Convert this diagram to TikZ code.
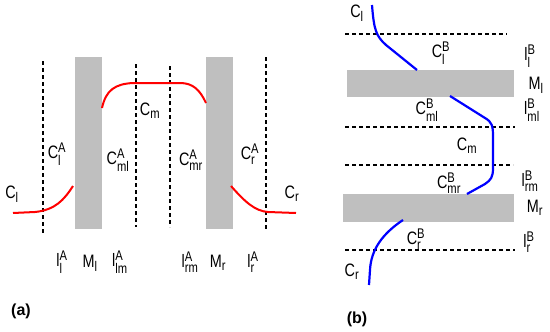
\documentclass[tikz,border=0pt]{standalone}
\usepackage{fontspec}
\usepackage{amsmath}
\setmainfont{Liberation Sans}
\newfontfamily\narrowsans[FakeStretch=0.8]{Liberation Sans}
\DeclareMathSizes{18}{18}{14}{10}
% label with sub- and superscript, label with subscript only
\newcommand{\tlab}[3]{#1$^{\text{#3}}_{\text{#2}}$}
\newcommand{\slab}[2]{#1$_{\text{#2}}$}

\begin{document}
\begin{tikzpicture}[x=1pt, y=-1pt,
    lab/.style={inner sep=0pt, font=\fontsize{18}{20}\narrowsans},
    panel/.style={inner sep=0pt, font=\fontsize{16}{18}\selectfont\bfseries},
    bar/.style={fill=black!25},
    dashline/.style={dash pattern=on 4pt off 3pt, line width=1.2pt},
    redline/.style={red, line width=2pt},
    blueline/.style={blue, line width=2.2pt}]
    \useasboundingbox (0,0) rectangle (550,332);

    % (a) membranes
    \fill[bar] (75,57) rectangle (102,229);
    \fill[bar] (206,57) rectangle (233,229);

    % (a) interfaces
    \draw[dashline] (43,61) -- (43,233);
    \draw[dashline] (136,64) -- (136,227);
    \draw[dashline] (170,66) -- (170,227);
    \draw[dashline] (266,57) -- (266,229);

    % (a) concentration profile
    \draw[redline] (13,213) -- (35,212) .. controls (55,210) and (64,200) .. (73,186);
    \draw[redline] (102,108) .. controls (106,90) and (115,84) .. (133,83)
        -- (180,83) .. controls (193,83) and (200,90) .. (206,103);
    \draw[redline] (231,186) .. controls (245,202) and (255,211) .. (268,212) -- (296,213);

    % (a) labels
    \node[lab] (Cl-a) at (12,194) {\slab{C}{l}};
    \node[lab] (ClA) at (57,154) {\tlab{C}{l}{A}};
    \node[lab] (CmlA) at (118,160) {\tlab{C}{ml}{A}};
    \node[lab] (Cm-a) at (150,111) {\slab{C}{m}};
    \node[lab] (CmrA) at (191,160) {\tlab{C}{mr}{A}};
    \node[lab] (CrA) at (250,154) {\tlab{C}{r}{A}};
    \node[lab] (Cr-a) at (292,194) {\slab{C}{r}};

    \node[lab] (llA) at (62,262) {\tlab{l}{l}{A}};
    \node[lab] (Ml-a) at (90,263) {\slab{M}{l}};
    \node[lab] (llmA) at (120,262) {\tlab{l}{lm}{A}};
    \node[lab] (lrmA) at (190,262) {\tlab{l}{rm}{A}};
    \node[lab] (Mr-a) at (218,263) {\slab{M}{r}};
    \node[lab] (lrA) at (253,262) {\tlab{l}{r}{A}};

    \node[panel] (pa) at (21,311) {(a)};

    % (b) membranes
    \fill[bar] (347,70) rectangle (514,97);
    \fill[bar] (343,194) rectangle (514,222);

    % (b) interfaces
    \draw[dashline] (345,34) -- (507,34);
    \draw[dashline] (345,127) -- (515,127);
    \draw[dashline] (345,165) -- (513,165);
    \draw[dashline] (345,250) -- (515,250);

    % (b) concentration profile
    \draw[blueline] (372,5) .. controls (374,30) and (376,36) .. (386,45) -- (417,70);
    \draw[blueline] (450,96) -- (485,118) .. controls (492,122) and (493,126) .. (493,136)
        -- (493,168) .. controls (493,177) and (491,180) .. (485,184) -- (467,194);
    \draw[blueline] (403,220) .. controls (382,234) and (371,250) .. (370,270) -- (369,285);

    % (b) labels
    \node[lab] (Cl-b) at (357,13) {\slab{C}{l}};
    \node[lab] (ClB) at (441,53) {\tlab{C}{l}{B}};
    \node[lab] (llB) at (530,56) {\tlab{l}{l}{B}};
    \node[lab] (Ml-b) at (536,85) {\slab{M}{l}};
    \node[lab] (lmlB) at (532,110) {\tlab{l}{ml}{B}};
    \node[lab] (CmlB) at (427,110) {\tlab{C}{ml}{B}};
    \node[lab] (Cm-b) at (467,146) {\slab{C}{m}};
    \node[lab] (lrmB) at (530,181) {\tlab{l}{rm}{B}};
    \node[lab] (CmrB) at (449,183) {\tlab{C}{mr}{B}};
    \node[lab] (Mr-b) at (535,208) {\slab{M}{r}};
    \node[lab] (CrB) at (416,239) {\tlab{C}{r}{B}};
    \node[lab] (lrB) at (529,242) {\tlab{l}{r}{B}};
    \node[lab] (Cr-b) at (352,272) {\slab{C}{r}};

    \node[panel] (pb) at (357,319) {(b)};
\end{tikzpicture}
\end{document}
